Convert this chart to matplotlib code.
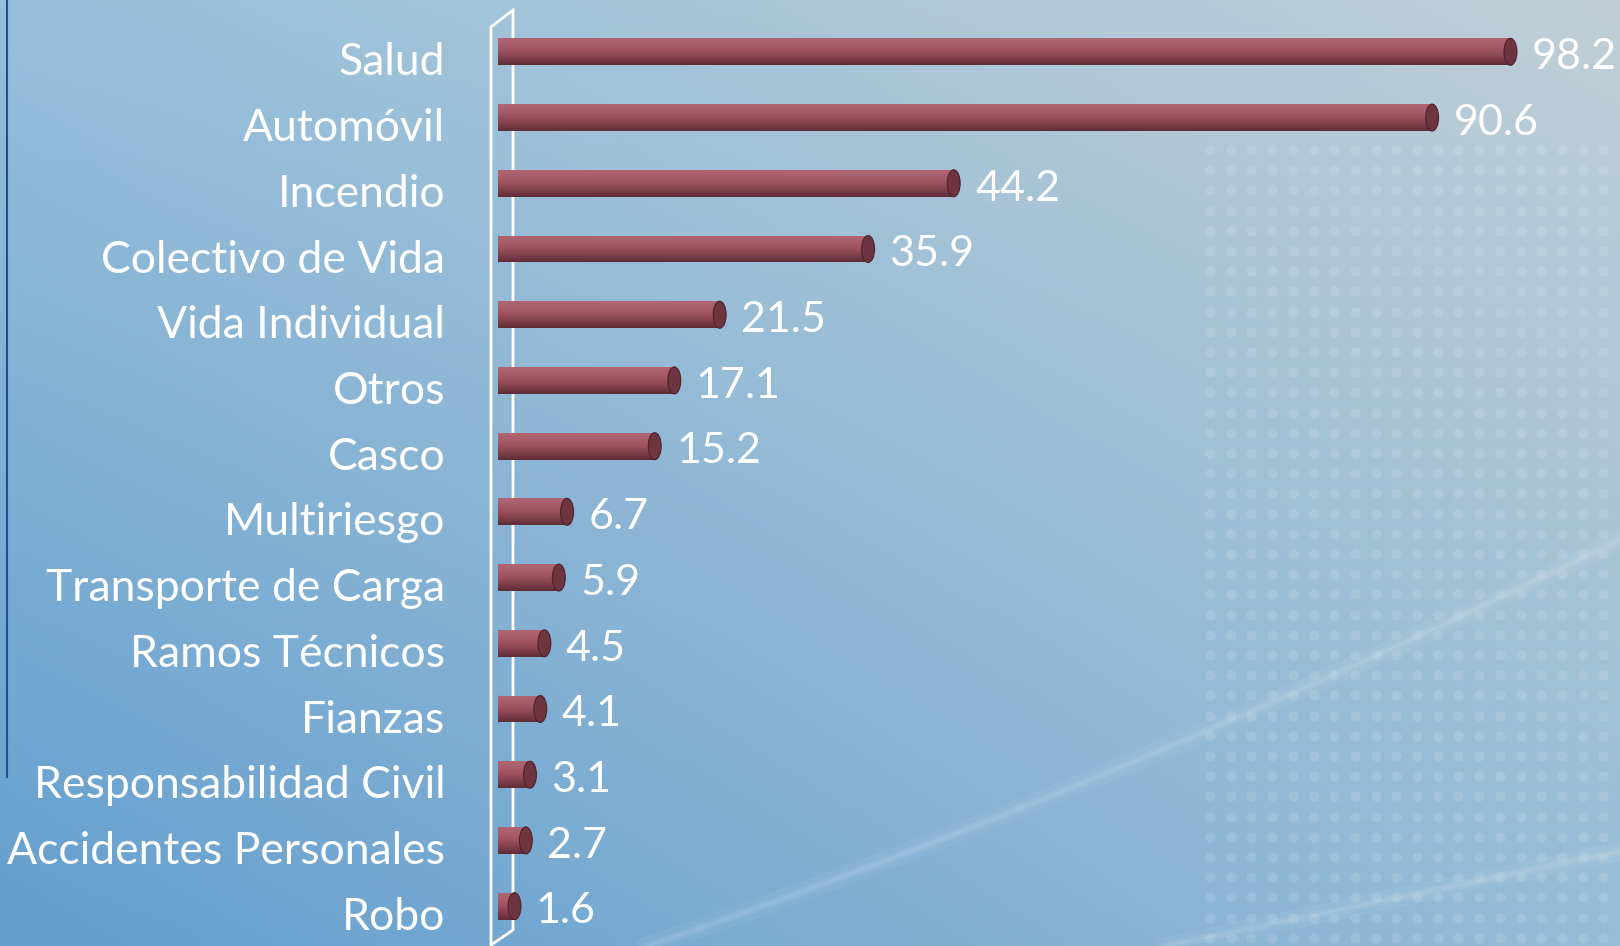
import numpy as np
import matplotlib.pyplot as plt
import matplotlib.transforms as mtransforms
from matplotlib.patches import Ellipse, Polygon
from matplotlib.colors import LinearSegmentedColormap

categories = ['Salud', 'Automóvil', 'Incendio', 'Colectivo de Vida', 'Vida Individual',
              'Otros', 'Casco', 'Multiriesgo', 'Transporte de Carga', 'Ramos Técnicos',
              'Fianzas', 'Responsabilidad Civil', 'Accidentes Personales', 'Robo']
values = [98.2, 90.6, 44.2, 35.9, 21.5, 17.1, 15.2, 6.7, 5.9, 4.5, 4.1, 3.1, 2.7, 1.6]

plt.rcParams['font.family'] = ['Lato', 'DejaVu Sans']

W, H = 1620, 946
fig = plt.figure(figsize=(W / 100, H / 100), dpi=100)

# background: blue on the left/bottom, grey-blue towards top right
bg = fig.add_axes([0, 0, 1, 1])
bg.set_axis_off()
xx, yy = np.meshgrid(np.linspace(0, 1, 200), np.linspace(0, 1, 120))
c_tl = np.array([150, 191, 218]) / 255
c_tr = np.array([192, 207, 216]) / 255
c_bl = np.array([100, 158, 206]) / 255
c_br = np.array([150, 188, 214]) / 255
top = c_tl[None, None, :] * (1 - xx[..., None]) + c_tr[None, None, :] * xx[..., None]
bot = c_bl[None, None, :] * (1 - xx[..., None]) + c_br[None, None, :] * xx[..., None]
img = top * (1 - yy[..., None]) + bot * yy[..., None]
bg.imshow(img, extent=[0, 1, 1, 0], aspect='auto')
bg.set_xlim(0, 1)
bg.set_ylim(1, 0)
# faint dot grid at right
gx, gy = np.meshgrid(np.arange(1210, W, 20.7), np.arange(150, H, 20.2))
bg.scatter(gx.ravel() / W, gy.ravel() / H, s=55, color='white', alpha=0.12, linewidths=0)
# soft light streaks
t = np.linspace(0, 1, 100)
for lw, a in [(14, 0.05), (6, 0.07), (2, 0.08)]:
    bg.plot(0.40 + 0.60 * t, 1.0 - 0.43 * t + 0.08 * t * (1 - t), color='white', alpha=a, lw=lw)
    bg.plot(0.72 + 0.28 * t, 1.0 - 0.10 * t, color='white', alpha=a, lw=lw)
# thin dark line on the left edge
bg.plot([6.5 / W, 6.5 / W], [0, 777 / H], color='#1f4f8f', lw=1.5)

ax = fig.add_axes([498 / W, 1 - 939 / H, 1122 / W, 920 / H])
ax.patch.set_alpha(0)
xmax = 1122 / 10.31
ax.set_xlim(0, xmax)
ax.set_ylim(len(categories) - 0.5, -0.5)
ypos = np.arange(len(categories))
bh = 0.41

cyl = LinearSegmentedColormap.from_list('cyl', ['#b06672', '#a85d6a', '#9a505d', '#7e3f4b', '#5f2c36'])
grad = np.linspace(0, 1, 64).reshape(-1, 1)
cap_w = 1.25

bars = ax.barh(ypos, values, height=bh, color='none', edgecolor='none')
for b, v, y in zip(bars, values, ypos):
    im = ax.imshow(grad, cmap=cyl, aspect='auto', zorder=2,
                   extent=[0, v, y + bh / 2, y - bh / 2])
    im.set_clip_path(b)
    # rounded left end
    left = Ellipse((0, y), cap_w, bh, facecolor='#9a525f', edgecolor='none', zorder=1.9)
    ax.add_patch(left)
    # right end cap
    cap = Ellipse((v, y), cap_w, bh, facecolor='#6e3440', edgecolor='#4e222b', lw=0.8, zorder=3)
    ax.add_patch(cap)
    ax.text(v + cap_w / 2 + 1.45, y + 0.08, f'{v}', color='white', fontsize=31,
            va='center', ha='left', zorder=4)

ax.set_yticks(ypos)
ax.set_yticklabels(categories, fontsize=32, color='white')
ax.tick_params(axis='y', length=0, pad=38)
shift = mtransforms.ScaledTranslation(0, -7 / 100, fig.dpi_scale_trans)
for lab in ax.get_yticklabels():
    lab.set_transform(lab.get_transform() + shift)
ax.set_xticks([])
for s in ax.spines.values():
    s.set_visible(False)

# 3D back wall outline
wall = Polygon([(491 / W, 1 - 946 / H), (491 / W, 1 - 27 / H), (513 / W, 1 - 10 / H),
                (513 / W, 1 - 930 / H), (491 / W, 1 - 945 / H)],
               closed=False, fill=False, edgecolor='white', lw=2, transform=fig.transFigure, zorder=0.5)
bg.add_patch(wall)

fig.savefig('out.png', dpi=100)
